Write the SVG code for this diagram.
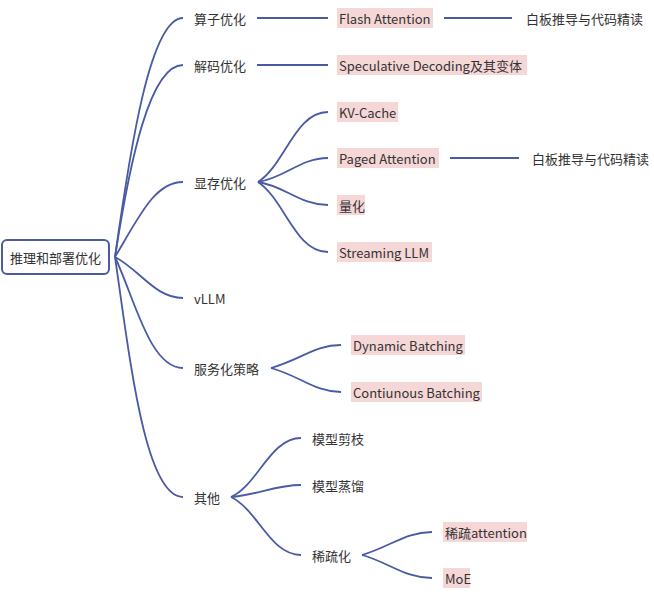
<svg xmlns="http://www.w3.org/2000/svg" width="654" height="599" viewBox="0 0 654 599">
<style>
text{font-family:"Noto Sans CJK SC","Noto Sans",sans-serif;font-size:13px;fill:#333;dominant-baseline:central}
.c path,.c line{fill:none;stroke:#4a5aa3;stroke-width:1.8}
.hl{fill:#f6d7d7}
</style>
<rect width="654" height="599" fill="#fff"/>
<g class="c" id="connectors">
<path d="M115,257 C130,150 150,18 183,18"/>
<path d="M115,257 C130,160 150,65 183,65"/>
<path d="M115,257 C140,215 155,182 183,182"/>
<path d="M115,257 C140,270 155,298 183,298"/>
<path d="M115,257 C135,300 150,368 183,368"/>
<path d="M115,257 C130,360 145,497 183,497"/>
<line x1="257" y1="18" x2="328" y2="18"/>
<line x1="444" y1="18" x2="512" y2="18"/>
<line x1="257" y1="65" x2="328" y2="65"/>
<path d="M258,182 C285,165 295,112 328,112"/>
<path d="M258,182 C285,178 300,158 328,158"/>
<path d="M258,182 C285,186 300,205 328,205"/>
<path d="M258,182 C285,200 295,252 328,252"/>
<line x1="450" y1="158" x2="519" y2="158"/>
<path d="M271,368 C300,360 315,345 341,345"/>
<path d="M271,368 C300,376 315,392 341,392"/>
<path d="M231,497 C258,485 270,438 301,438"/>
<path d="M231,497 C258,495 275,485 301,485"/>
<path d="M231,497 C258,510 270,555 301,555"/>
<path d="M362,555 C390,547 405,532 432,532"/>
<path d="M362,555 C390,563 405,578 432,578"/>
</g>
<g id="root"><rect x="2" y="240" width="107" height="34" rx="5" fill="#fff" stroke="#4a5aa3" stroke-width="2"/><text x="55.5" y="257" text-anchor="middle">推理和部署优化</text></g>
<g id="n1"><text x="194" y="18">算子优化</text></g>
<g id="n1a"><rect class="hl" x="337" y="8" width="96" height="20"/><text x="339" y="18">Flash Attention</text></g>
<g id="n1b"><text x="526" y="18">白板推导与代码精读</text></g>
<g id="n2"><text x="194" y="65">解码优化</text></g>
<g id="n2a"><rect class="hl" x="337" y="55" width="190" height="20"/><text x="339" y="65">Speculative Decoding及其变体</text></g>
<g id="n3"><text x="194" y="182">显存优化</text></g>
<g id="n3a"><rect class="hl" x="337" y="102" width="61" height="20"/><text x="339" y="112">KV-Cache</text></g>
<g id="n3b"><rect class="hl" x="337" y="148" width="102" height="20"/><text x="339" y="158">Paged Attention</text></g>
<g id="n3b1"><text x="532" y="158">白板推导与代码精读</text></g>
<g id="n3c"><rect class="hl" x="337" y="195" width="28" height="20"/><text x="339" y="205">量化</text></g>
<g id="n3d"><rect class="hl" x="337" y="242" width="95" height="20"/><text x="339" y="252">Streaming LLM</text></g>
<g id="n4"><text x="194" y="298">vLLM</text></g>
<g id="n5"><text x="194" y="368">服务化策略</text></g>
<g id="n5a"><rect class="hl" x="351" y="335" width="114" height="20"/><text x="353" y="345">Dynamic Batching</text></g>
<g id="n5b"><rect class="hl" x="351" y="382" width="131" height="20"/><text x="353" y="392">Contiunous Batching</text></g>
<g id="n6"><text x="194" y="497">其他</text></g>
<g id="n6a"><text x="312" y="438">模型剪枝</text></g>
<g id="n6b"><text x="312" y="485">模型蒸馏</text></g>
<g id="n6c"><text x="312" y="555">稀疏化</text></g>
<g id="n6c1"><rect class="hl" x="443" y="522" width="84" height="20"/><text x="445" y="532">稀疏attention</text></g>
<g id="n6c2"><rect class="hl" x="443" y="568" width="27" height="20"/><text x="445" y="578">MoE</text></g>
</svg>
